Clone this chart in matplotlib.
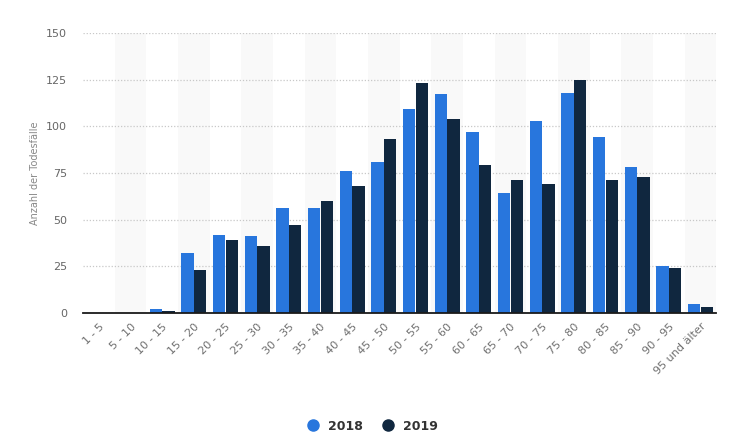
import matplotlib.pyplot as plt
import numpy as np

plt.rcParams['font.family'] = ['DejaVu Sans']

categories = ['1 - 5', '5 - 10', '10 - 15', '15 - 20', '20 - 25', '25 - 30', '30 - 35',
              '35 - 40', '40 - 45', '45 - 50', '50 - 55', '55 - 60', '60 - 65', '65 - 70',
              '70 - 75', '75 - 80', '80 - 85', '85 - 90', '90 - 95', '95 und älter']
vals_2018 = [0, 0, 2, 32, 42, 41, 56, 56, 76, 81, 109, 117, 97, 64, 103, 118, 94, 78, 25, 5]
vals_2019 = [0, 0, 1, 23, 39, 36, 47, 60, 68, 93, 123, 104, 79, 71, 69, 125, 71, 73, 24, 3]
yticks = [0, 25, 50, 75, 100, 125, 150]

c18 = '#2876dd'
c19 = '#10273f'

fig = plt.figure(figsize=(7.38, 4.44), dpi=100)
ax = fig.add_axes([0.1125, 0.295, 0.858, 0.631])

x = np.arange(len(categories))
# alternating background bands
for i in x:
    if i % 2 == 1:
        ax.axvspan(i - 0.5, i + 0.5, color='#f9f9f9', zorder=0, lw=0)

w = 0.39
ax.bar(x - 0.2, vals_2018, width=w, color=c18, label='2018', zorder=3)
ax.bar(x + 0.2, vals_2019, width=w, color=c19, label='2019', zorder=3)

ax.set_xlim(-0.5, len(categories) - 0.5)
ax.set_ylim(0, 150)
ax.set_yticks(yticks)
ax.yaxis.grid(True, linestyle=(0, (1, 1.5)), color='#c8c8c8', lw=0.9, zorder=1)
ax.set_axisbelow(True)

for s in ['top', 'right', 'left']:
    ax.spines[s].set_visible(False)
ax.spines['bottom'].set_color('#1a1a1a')
ax.spines['bottom'].set_linewidth(1.3)
ax.spines['bottom'].set_zorder(4)

ax.tick_params(axis='y', length=0, pad=11.5, labelsize=8, labelcolor='#666666')
ax.tick_params(axis='x', length=0, pad=6, labelsize=8, labelcolor='#707070')
ax.set_xticks(x)
ax.set_xticklabels(categories, rotation=45, ha='right', rotation_mode='anchor')

ax.set_ylabel('Anzahl der Todesfälle', fontsize=7, color='#888888', labelpad=4)

leg = fig.legend(handles=[plt.Line2D([], [], marker='o', ls='', color=c18, ms=8, label='2018'),
                          plt.Line2D([], [], marker='o', ls='', color=c19, ms=8, label='2019')],
                 loc='center', bbox_to_anchor=(0.5, 0.04), ncol=2, frameon=False,
                 fontsize=9, handletextpad=0.2, columnspacing=1.0)
for t in leg.get_texts():
    t.set_color('#333333')
    t.set_fontweight('semibold')

fig.savefig('out.png', dpi=100)
